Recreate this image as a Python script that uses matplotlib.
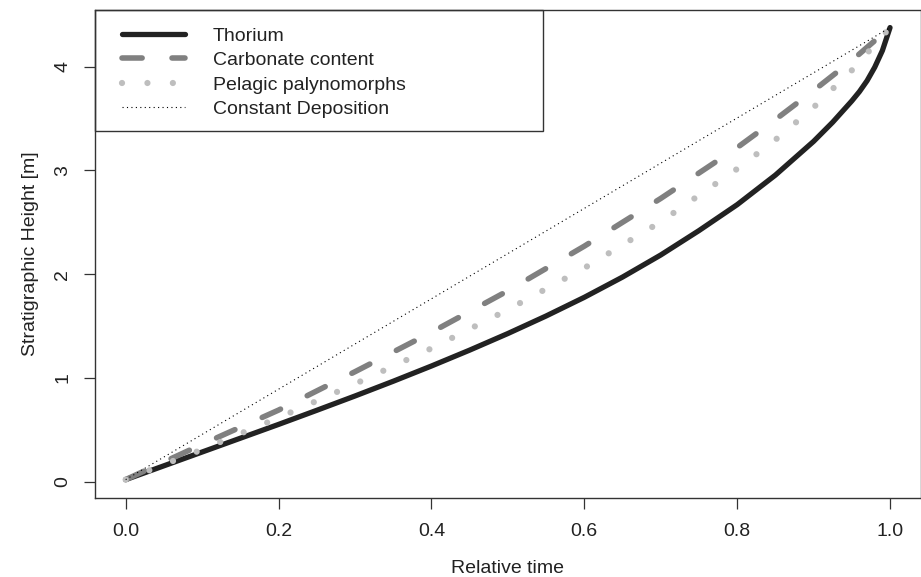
import matplotlib
matplotlib.use("Agg")
import matplotlib.pyplot as plt
from matplotlib.patches import Rectangle
import numpy as np

plt.rcParams['font.family'] = ['Liberation Sans', 'DejaVu Sans']
plt.rcParams['lines.scale_dashes'] = False

# ---- data ----
thorium_x = [0, 0.05, 0.1, 0.15, 0.2, 0.25, 0.3, 0.35, 0.4, 0.45, 0.5, 0.55, 0.6,
             0.65, 0.7, 0.75, 0.8, 0.85, 0.9, 0.925, 0.95, 0.96, 0.97, 0.98, 0.99, 1.0]
thorium_y = [0.02, 0.153, 0.286, 0.419, 0.552, 0.688, 0.826, 0.968, 1.115, 1.268, 1.428, 1.597, 1.777,
             1.972, 2.185, 2.42, 2.67, 2.955, 3.28, 3.465, 3.67, 3.76, 3.865, 3.995, 4.155, 4.377]

carbonate_x = [0, 0.1, 0.2, 0.3, 0.4, 0.5, 0.6, 0.7, 0.8, 0.85, 0.9, 0.95, 1.0]
carbonate_y = [0.02, 0.36, 0.69, 1.06, 1.44, 1.84, 2.27, 2.73, 3.22, 3.49, 3.77, 4.06, 4.377]

pelagic_x = [0, 0.1, 0.2, 0.3, 0.4, 0.5, 0.6, 0.7, 0.8, 0.85, 0.9, 0.95, 1.0]
pelagic_y = [0.02, 0.31, 0.616, 0.942, 1.285, 1.658, 2.059, 2.505, 3.015, 3.295, 3.608, 3.965, 4.377]

constant_x = [0, 1]
constant_y = [0.02, 4.377]

labels = ["Thorium", "Carbonate content", "Pelagic palynomorphs", "Constant Deposition"]
x_ticks = [0.0, 0.2, 0.4, 0.6, 0.8, 1.0]
x_tick_labels = ["0.0", "0.2", "0.4", "0.6", "0.8", "1.0"]
y_ticks = [0, 1, 2, 3, 4]
y_tick_labels = ["0", "1", "2", "3", "4"]

W, H = 921, 577
fig = plt.figure(figsize=(W / 100, H / 100), dpi=100)
ax = fig.add_axes([95.1 / W, 1 - 497.7 / H, (920.6 - 95.1) / W, (497.7 - 9.5) / H])

l1, = ax.plot(thorium_x, thorium_y, color='#222222', lw=3.8, solid_capstyle='round',
              solid_joinstyle='round', label=labels[0])
l2, = ax.plot(carbonate_x, carbonate_y, color='#808080', lw=4.0, dashes=(14.5, 21.5),
              dash_capstyle='round', dash_joinstyle='round', label=labels[1])
l3, = ax.plot(pelagic_x, pelagic_y, color='#bebebe', lw=4.5, dashes=(0.01, 18.3),
              dash_capstyle='round', label=labels[2])
l4, = ax.plot(constant_x, constant_y, color='black', lw=0.8, dashes=(0.8, 2.4),
              dash_capstyle='butt', label=labels[3])

ax.set_xlim(-0.04, 1.04)
ymin, ymax = min(constant_y), max(thorium_y)
r = ymax - ymin
ax.set_ylim(ymin - 0.04 * r, ymax + 0.04 * r)

for s in ax.spines.values():
    s.set_color('#333333')
    s.set_linewidth(1.0)

ax.set_xticks(x_ticks)
ax.set_xticklabels(x_tick_labels, fontsize=14)
ax.set_yticks(y_ticks)
ax.set_yticklabels(y_tick_labels, fontsize=14, rotation=90, va='center')
ax.tick_params(axis='both', direction='out', length=8, width=0.9, color='#333333',
               labelcolor='#222222')
ax.tick_params(axis='x', pad=10.5)
ax.tick_params(axis='y', pad=9)

ax.set_xlabel("Relative time", fontsize=14, color='#222222')
ax.set_ylabel("Stratigraphic Height [m]", fontsize=14, color='#222222')
ax.xaxis.set_label_coords(0.5, -0.127)
ax.yaxis.set_label_coords(-0.0675, 0.5)

# legend frame (R style, fixed box)
fig.patches.append(Rectangle((95.1 / W, 1 - 131 / H), (543.3 - 95.1) / W, (131 - 10) / H,
                             transform=fig.transFigure, fill=False, edgecolor='#333333',
                             linewidth=1.0, zorder=5))
leg = ax.legend(handles=[l1, l2, l3, l4], loc='upper left',
                bbox_to_anchor=(121.7 / W, 1 - 27.3 / H), bbox_transform=fig.transFigure,
                frameon=False, fontsize=14, handlelength=3.24, handletextpad=1.44,
                borderpad=0, borderaxespad=0, labelspacing=0.347)
for t in leg.get_texts():
    t.set_color('#222222')

fig.savefig("out.png", dpi=100)
